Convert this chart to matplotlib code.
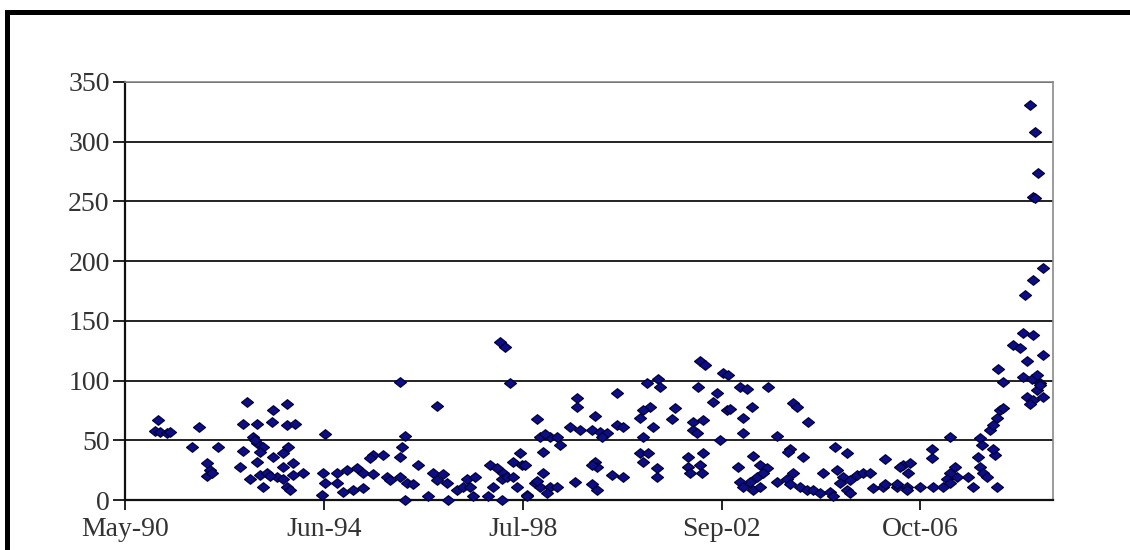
import matplotlib
matplotlib.use("Agg")
import matplotlib.pyplot as plt
from matplotlib.patches import Rectangle
import pandas as pd
import numpy as np

# ---- data (decimal year, value) ----
years_1990s_a = [1991.02, 1990.96, 1991.06, 1991.21, 1991.27, 1991.87, 1991.72, 1992.26, 1992.03, 1992.10,
                 1992.03, 1992.14, 1992.86, 1992.78, 1993.07, 1993.38, 1993.69, 1993.85, 1993.40, 1993.69,
                 1992.98, 1993.07, 1993.19, 1993.03, 1993.13, 1992.78, 1992.72, 1993.07, 1993.40, 1993.60,
                 1993.71, 1993.60, 1993.81, 1993.13, 1993.27, 1993.48, 1993.60, 1993.81, 1994.02, 1993.19,
                 1993.69, 1993.75, 1993.33, 1992.92, 1994.47, 1994.41, 1994.43, 1994.47]
values_1990s_a = [67, 58, 57, 56, 57, 61, 44, 44, 31, 25,
                  20, 23, 82, 64, 64, 65, 63, 64, 75, 80,
                  53, 48, 44, 50, 40, 41, 28, 32, 36, 39,
                  44, 28, 31, 21, 23, 19, 18, 21, 23, 11,
                  11, 8, 20, 18, 55, 4, 23, 14]

years_1990s_b = [1998.09, 1998.19, 1996.02, 1998.29, 1996.80, 1996.12, 1996.06, 1996.02, 1995.46, 1995.67,
                 1995.40, 1998.50, 1998.35, 1998.54, 1994.72, 1994.93, 1995.13, 1995.26, 1995.46, 1994.72,
                 1994.84, 1995.05, 1995.26, 1995.75, 1995.81, 1996.02, 1996.16, 1996.29, 1996.12, 1996.39,
                 1996.70, 1996.91, 1996.78, 1996.99, 1997.20, 1996.60, 1997.01, 1997.40, 1997.57, 1997.32,
                 1997.47, 1997.53, 1997.88, 1998.02, 1997.94, 1997.84, 1998.15, 1998.13, 1998.23, 1998.13,
                 1998.35, 1998.44, 1998.64]
values_1990s_b = [132, 128, 99, 98, 79, 54, 44, 36, 38, 38,
                  35, 39, 32, 29, 23, 25, 27, 23, 22, 14,
                  7, 8, 10, 19, 17, 19, 14, 13, 0, 29,
                  23, 22, 17, 14, 8, 3, 0, 18, 19, 11,
                  11, 3, 29, 27, 11, 3, 23, 18, 19, 0,
                  19, 11, 4]

years_2000s_a = [2002.22, 2002.32, 2002.69, 2002.79, 2001.12, 2001.35, 2001.39, 2000.50, 2002.17, 2002.57,
                 2002.48, 2002.77, 1999.68, 1999.68, 1998.85, 2000.05, 2001.18, 2001.04, 2000.98, 2001.70,
                 2001.64, 2002.07, 2002.28, 2002.07, 2002.15, 1999.53, 1999.74, 1999.99, 2000.15, 2000.30,
                 2000.50, 2000.63, 2000.19, 1998.91, 1999.12, 1999.26, 1999.32, 1999.01, 2001.25, 2001.04,
                 2002.63, 1998.60, 1998.97, 1998.97, 1998.81, 1998.91, 1999.12, 1999.26, 1999.06, 1998.64,
                 1999.63, 2000.05, 2000.09, 1999.99, 2000.40, 2000.63, 1999.99, 2000.09, 2000.98, 2001.14,
                 2001.04, 2001.33, 2001.33, 2001.97, 2002.28, 2001.97, 2002.22, 2002.01, 2002.26, 1998.85]
values_2000s_a = [116, 113, 106, 105, 98, 101, 95, 90, 95, 90,
                  82, 75, 85, 78, 68, 70, 78, 75, 69, 77,
                  68, 65, 67, 59, 56, 61, 59, 59, 57, 56,
                  63, 61, 53, 53, 53, 53, 46, 55, 61, 53,
                  50, 29, 40, 23, 14, 11, 11, 11, 6, 3,
                  15, 32, 28, 29, 21, 19, 13, 8, 39, 39,
                  32, 27, 19, 36, 39, 28, 29, 23, 23, 16]

years_2000s_b = [2003.04, 2003.19, 2003.62, 2002.84, 2003.29, 2004.14, 2004.22, 2003.10, 2004.45, 2003.10,
                 2003.81, 2004.07, 2004.03, 2005.00, 2005.25, 2006.04, 2006.41, 2003.31, 2004.34, 2003.00,
                 2003.45, 2003.60, 2003.39, 2003.52, 2003.25, 2003.04, 2003.10, 2003.31, 2003.45, 2003.81,
                 2004.01, 2004.14, 2004.07, 2004.28, 2004.43, 2004.55, 2004.69, 2004.90, 2004.96, 2004.76,
                 2005.05, 2005.17, 2005.11, 2005.31, 2005.46, 2005.58, 2005.73, 2005.25, 2005.31, 2005.79,
                 2005.99, 2006.28, 2006.49, 2006.35]
values_2000s_b = [95, 93, 95, 76, 78, 81, 78, 69, 65, 56,
                  54, 43, 40, 44, 39, 34, 29, 37, 36, 28,
                  29, 27, 19, 23, 15, 15, 11, 8, 11, 15,
                  18, 23, 13, 11, 8, 8, 6, 7, 3, 23,
                  25, 19, 14, 17, 21, 23, 23, 8, 6, 10,
                  11, 11, 11, 28]

years_late = [2006.55, 2006.51, 2006.76, 2007.03, 2007.23, 2007.01, 2007.01, 2007.38, 2007.48, 2007.38,
              2007.32, 2007.52, 2007.75, 2007.85, 2007.38, 2008.00, 2008.04, 2007.96, 2008.00, 2008.06,
              2008.14, 2008.31, 2008.27, 2008.35, 2008.21, 2008.27, 2008.35, 2008.41, 2008.47, 2008.47,
              2008.37, 2008.68, 2008.82, 2008.97, 2009.30, 2008.89, 2009.09, 2008.89, 2009.07, 2009.24,
              2009.18, 2008.97, 2009.09, 2009.30, 2009.03, 2009.03, 2009.13, 2009.20, 2009.09, 2009.13,
              2009.30, 2009.09, 2008.93, 2009.24, 2009.18, 2006.04, 2006.28, 2006.49]
values_late = [31, 23, 11, 11, 11, 43, 35, 53, 28, 23,
               18, 19, 19, 11, 14, 52, 46, 36, 28, 23,
               19, 38, 43, 11, 59, 63, 69, 75, 77, 99,
               110, 130, 127, 116, 121, 140, 138, 103, 101, 98,
               92, 86, 84, 86, 80, 331, 308, 274, 254, 253,
               194, 184, 172, 96, 105, 13, 13, 8]

x_start = "1990-05-07"
x_end = "2009-07-06"
tick_step_days = 1500
x_tick_labels = ["May-90", "Jun-94", "Jul-98", "Sep-02", "Oct-06"]
y_ticks = [0, 50, 100, 150, 200, 250, 300, 350]


def to_date(y):
    base = pd.Timestamp(int(y), 1, 1)
    return base + pd.Timedelta(days=(y - int(y)) * 365.25)


years = years_1990s_a + years_1990s_b + years_2000s_a + years_2000s_b + years_late
values = values_1990s_a + values_1990s_b + values_2000s_a + values_2000s_b + values_late
dates = [to_date(y) for y in years]

plt.rcParams['font.family'] = ['Liberation Serif', 'DejaVu Serif']

fig = plt.figure(figsize=(11.3, 5.5), dpi=100)
fig.patch.set_facecolor('white')

# thick frame on the left and top of the picture
fig.add_artist(Rectangle((5 / 1130, 0), 5 / 1130, 1 - 10 / 550, transform=fig.transFigure,
                         facecolor='black', edgecolor='none'))
fig.add_artist(Rectangle((5 / 1130, 1 - 14.5 / 550), 1, 5 / 550, transform=fig.transFigure,
                         facecolor='black', edgecolor='none'))

ax = fig.add_axes([125 / 1130, 50 / 550, 928 / 1130, 418 / 550])

wide_diamond = [(-1, 0), (0, 0.8), (1, 0), (0, -0.8), (-1, 0)]
ax.plot(dates, values, linestyle='none', marker=wide_diamond, markersize=8.6,
        markerfacecolor='#0d0d86', markeredgecolor='#03033a', markeredgewidth=0.9,
        zorder=3, clip_on=False)

start = pd.Timestamp(x_start)
ax.set_xlim(start, pd.Timestamp(x_end))
ax.set_ylim(0, 350)
tick_dates = [start + pd.Timedelta(days=tick_step_days * k) for k in range(len(x_tick_labels))]
ax.set_xticks(tick_dates)
ax.set_xticklabels(x_tick_labels)
ax.set_yticks(y_ticks)
ax.set_yticklabels([str(v) for v in y_ticks])

ax.yaxis.grid(True, color='#111111', linewidth=1.3, zorder=1)
ax.xaxis.grid(False)
ax.set_axisbelow(True)

for s in ['top', 'right']:
    ax.spines[s].set_color('#8a8a8a')
    ax.spines[s].set_linewidth(1.2)
for s in ['left', 'bottom']:
    ax.spines[s].set_color('#111111')
    ax.spines[s].set_linewidth(1.6)

ax.tick_params(axis='y', direction='out', length=9, width=1.3, pad=2,
               labelsize=20, labelcolor='#333333', color='#111111')
ax.tick_params(axis='x', direction='out', length=7, width=1.3, pad=5,
               labelsize=20, labelcolor='#333333', color='#111111')

fig.savefig('out.png', dpi=100, facecolor='white')
